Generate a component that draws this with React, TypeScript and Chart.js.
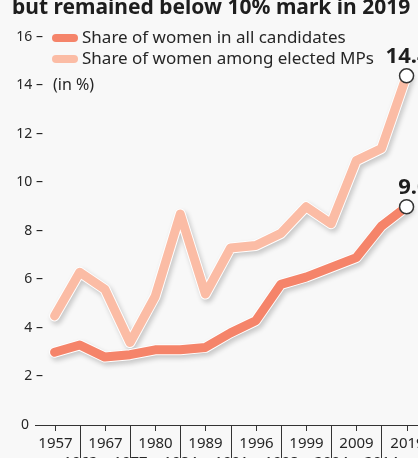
import React, { useEffect, useRef } from 'react';
import { Chart, registerables } from 'chart.js';

Chart.register(...registerables);

const title = 'but remained below 10% mark in 2019';
const years = ['1957', '1962', '1967', '1977', '1980', '1984', '1989', '1991', '1996', '1998', '1999', '2004', '2009', '2014', '2019'];
const candidates = [3.0, 3.3, 2.8, 2.9, 3.1, 3.1, 3.2, 3.8, 4.3, 5.8, 6.1, 6.5, 6.9, 8.2, 9.0];
const electedMPs = [4.5, 6.3, 5.6, 3.4, 5.3, 8.7, 5.4, 7.3, 7.4, 7.9, 9.0, 8.3, 10.9, 11.4, 14.4];
const yTicks = [0, 2, 4, 6, 8, 10, 12, 14, 16];
const legendLabels = ['Share of women in all candidates', 'Share of women among elected MPs'];
const unitLabel = '(in %)';
const endLabels = ['9.0', '14.4'];

const C_DARK = '#f5846a';
const C_LIGHT = '#fbbca5';
const TEXT = '#262626';
const BG = '#f8f8f8';
const FONT = '"Noto Sans", sans-serif';

const toPoints = (arr: number[]) => arr.map((v, i) => ({ x: i, y: v }));

const decorPlugin = {
  id: 'decor',
  beforeDraw(chart: any) {
    const { ctx, width, height } = chart;
    ctx.save();
    ctx.fillStyle = BG;
    ctx.fillRect(0, 0, width, height);
    ctx.restore();
  },
  beforeDatasetsDraw(chart: any) {
    const { ctx, chartArea, scales } = chart;
    const x = scales.x;
    const y = scales.y;
    const y0 = y.getPixelForValue(0);
    ctx.save();
    ctx.strokeStyle = '#333';
    ctx.lineWidth = 1;
    ctx.beginPath();
    ctx.moveTo(chartArea.left, Math.round(y0) + 0.5);
    ctx.lineTo(chart.width, Math.round(y0) + 0.5);
    ctx.stroke();
    ctx.fillStyle = TEXT;
    ctx.font = `15px ${FONT}`;
    ctx.textAlign = 'center';
    ctx.textBaseline = 'alphabetic';
    years.forEach((yr, i) => {
      const px = Math.round(x.getPixelForValue(i)) + 0.5;
      ctx.beginPath();
      ctx.moveTo(px, y0);
      ctx.lineTo(px, i % 2 === 0 ? y0 + 6 : y0 + 40);
      ctx.stroke();
      ctx.fillText(yr, px, i % 2 === 0 ? y0 + 23 : y0 + 42);
    });
    ctx.textBaseline = 'middle';
    ctx.textAlign = 'right';
    ctx.font = `14px ${FONT}`;
    yTicks.forEach((v) => {
      const py = y.getPixelForValue(v);
      if (v === 0) ctx.fillText('0', 29, py);
      else ctx.fillText(`${v} –`, 43, py);
    });
    ctx.restore();
  },
  beforeDatasetDraw(chart: any, args: any) {
    const ds = chart.data.datasets[args.index];
    if (ds.isOutline) {
      const { ctx } = chart;
      ctx.save();
      ctx.shadowColor = 'rgba(0,0,0,0.2)';
      ctx.shadowBlur = 5;
      ctx.shadowOffsetX = 2;
      ctx.shadowOffsetY = 3;
    }
  },
  afterDatasetDraw(chart: any, args: any) {
    const ds = chart.data.datasets[args.index];
    if (ds.isOutline) chart.ctx.restore();
  },
  afterDraw(chart: any) {
    const { ctx, scales } = chart;
    const x = scales.x;
    const y = scales.y;
    ctx.save();
    ctx.fillStyle = '#1e1e1e';
    ctx.font = `bold 21px ${FONT}`;
    ctx.textAlign = 'left';
    ctx.textBaseline = 'alphabetic';
    ctx.fillText(title, 12, 14);
    const colors = [C_DARK, C_LIGHT];
    ctx.font = `17px ${FONT}`;
    ctx.textBaseline = 'middle';
    legendLabels.forEach((lab, i) => {
      const cy = 38 + i * 21;
      ctx.fillStyle = colors[i];
      ctx.beginPath();
      (ctx as any).roundRect(52, cy - 4, 26, 8, 4);
      ctx.fill();
      ctx.fillStyle = TEXT;
      ctx.fillText(lab, 82, cy);
    });
    ctx.font = `16px ${FONT}`;
    ctx.fillText(unitLabel, 53, y.getPixelForValue(14));
    ctx.font = `bold 22px ${FONT}`;
    ctx.textAlign = 'right';
    ctx.textBaseline = 'alphabetic';
    ctx.fillStyle = '#1e1e1e';
    const last = years.length - 1;
    [candidates, electedMPs].forEach((arr, i) => {
      const px = x.getPixelForValue(last);
      const py = y.getPixelForValue(arr[last]);
      ctx.fillText(endLabels[i], px + 23, py - 13);
    });
    ctx.restore();
  },
};

export default function App() {
  const ref = useRef<HTMLCanvasElement | null>(null);
  useEffect(() => {
    if (!ref.current) return;
    const last = years.length - 1;
    const lineBase = {
      fill: false,
      tension: 0,
      borderJoinStyle: 'round' as const,
      borderCapStyle: 'round' as const,
      clip: false as const,
    };
    const endPoint = (ctx: any) => (ctx.dataIndex === last ? 7 : 0);
    const chart = new Chart(ref.current, {
      type: 'line',
      data: {
        datasets: [
          {
            ...lineBase,
            label: 'candidates',
            data: toPoints(candidates),
            borderColor: C_DARK,
            borderWidth: 9,
            pointRadius: endPoint,
            pointBackgroundColor: '#ffffff',
            pointBorderColor: '#333333',
            pointBorderWidth: 1.5,
            order: 1,
          } as any,
          {
            ...lineBase,
            label: 'candidates-outline',
            isOutline: true,
            data: toPoints(candidates),
            borderColor: '#ffffff',
            borderWidth: 11,
            pointRadius: 0,
            order: 2,
          } as any,
          {
            ...lineBase,
            label: 'mps',
            data: toPoints(electedMPs),
            borderColor: C_LIGHT,
            borderWidth: 9,
            pointRadius: endPoint,
            pointBackgroundColor: '#ffffff',
            pointBorderColor: '#333333',
            pointBorderWidth: 1.5,
            order: 3,
          } as any,
          {
            ...lineBase,
            label: 'mps-outline',
            isOutline: true,
            data: toPoints(electedMPs),
            borderColor: '#ffffff',
            borderWidth: 11,
            pointRadius: 0,
            order: 4,
          } as any,
        ],
      },
      options: {
        responsive: false,
        animation: false,
        layout: { padding: { left: 35, right: 0, top: 37, bottom: 33 } },
        plugins: { legend: { display: false }, tooltip: { enabled: false } },
        scales: {
          x: { type: 'linear', min: -0.778, max: 14.117, display: false },
          y: { type: 'linear', min: 0, max: 16, display: false },
        },
      },
      plugins: [decorPlugin],
    });
    return () => chart.destroy();
  }, []);
  return (
    <div style={{ position: 'fixed', left: 0, top: 0, width: 418, height: 458, background: BG }}>
      <canvas ref={ref} width={418} height={458} style={{ display: 'block' }} />
    </div>
  );
}
